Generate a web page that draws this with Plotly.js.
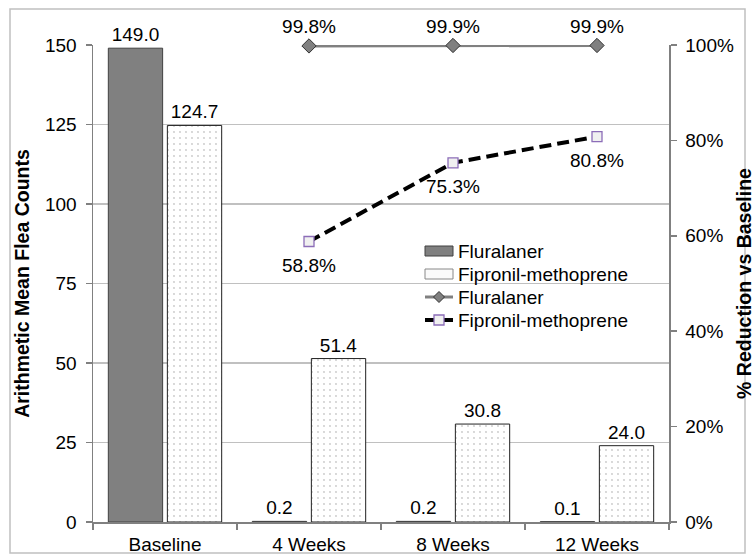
<!DOCTYPE html>
<html>
<head>
<meta charset="utf-8">
<script src="https://cdn.plot.ly/plotly-3.0.1.min.js"></script>
<style>html,body{margin:0;padding:0;background:#fff;}#chart{width:755px;height:558px;}</style>
</head>
<body>
<div id="chart"></div>
<script>
const categories = ["Baseline", "4 Weeks", "8 Weeks", "12 Weeks"];
const fluralanerCounts = [149.0, 0.2, 0.2, 0.1];
const fipronilCounts = [124.7, 51.4, 30.8, 24.0];
const lineCategories = ["4 Weeks", "8 Weeks", "12 Weeks"];
const fluralanerReduction = [0.998, 0.999, 0.999];
const fipronilReduction = [0.588, 0.753, 0.808];
const leftTicks = [0, 25, 50, 75, 100, 125, 150];
const rightTicks = [0, 0.2, 0.4, 0.6, 0.8, 1.0];
const seriesNames = ["Fluralaner", "Fipronil-methoprene"];

const FONT = "Liberation Sans, Arial, sans-serif";
const FS = 19;

// plot area in pixels (for placing legend/border decorations)
const L = 93, R = 669, T = 45, B = 522;
const px = x => (x - L) / (R - L);
const py = y => (B - y) / (B - T);

const traces = [
  {
    type: "bar", name: seriesNames[0], x: categories, y: fluralanerCounts,
    marker: {color: "#808080", line: {color: "#404040", width: 1}},
    texttemplate: "%{y:.1f}", textposition: "outside", cliponaxis: false,
    textfont: {size: FS, color: "#000"}
  },
  {
    type: "bar", name: seriesNames[1], x: categories, y: fipronilCounts,
    marker: {color: "#ffffff", line: {color: "#222", width: 1},
      pattern: {shape: ".", fgcolor: "#c8c8c8", bgcolor: "#ffffff", size: 6, solidity: 0.07}},
    texttemplate: "%{y:.1f}", textposition: "outside", cliponaxis: false,
    textfont: {size: FS, color: "#000"}
  },
  {
    type: "scatter", mode: "lines+markers+text", name: seriesNames[0],
    x: lineCategories, y: fluralanerReduction, yaxis: "y2",
    line: {color: "#808080", width: 3},
    marker: {symbol: "diamond", size: 11, color: "#808080", line: {color: "#333", width: 1}},
    texttemplate: "%{y:.1%}", textposition: "top center", cliponaxis: false,
    textfont: {size: FS, color: "#000"}
  },
  {
    type: "scatter", mode: "lines+markers", name: seriesNames[1],
    x: lineCategories, y: fipronilReduction, yaxis: "y2",
    line: {color: "#000", width: 4, dash: "12px,6px"},
    marker: {symbol: "square", size: 10, color: "#f0f0f0", line: {color: "#8c6db8", width: 1.3}},
    cliponaxis: false
  }
];

// data labels for the fipronil reduction line, placed below the markers
const annotations = lineCategories.map((c, i) => ({
  x: c, y: fipronilReduction[i], xref: "x", yref: "y2",
  text: (fipronilReduction[i] * 100).toFixed(1) + "%",
  showarrow: false, yshift: -24, font: {size: FS, color: "#000"}
}));

// custom legend (labels)
const legendRows = [251, 274, 297, 320];
const legendLabels = [seriesNames[0], seriesNames[1], seriesNames[0], seriesNames[1]];
legendLabels.forEach((t, i) => annotations.push({
  x: px(456), y: py(legendRows[i]), xref: "paper", yref: "paper",
  xanchor: "left", yanchor: "middle", text: t, showarrow: false,
  font: {size: FS, color: "#000"}
}));

const shapes = [
  { // figure border
    type: "rect", xref: "paper", yref: "paper",
    x0: px(10), x1: px(745), y0: py(553), y1: py(9),
    line: {color: "#c0c0c0", width: 1.5}, fillcolor: "rgba(0,0,0,0)", layer: "below"
  },
  { // legend swatch: fluralaner bar
    type: "rect", xref: "paper", yref: "paper",
    x0: px(425), x1: px(453), y0: py(legendRows[0] + 5), y1: py(legendRows[0] - 5),
    line: {color: "#404040", width: 1}, fillcolor: "#808080"
  },
  { // legend swatch: fipronil bar
    type: "rect", xref: "paper", yref: "paper",
    x0: px(425), x1: px(453), y0: py(legendRows[1] + 5), y1: py(legendRows[1] - 5),
    line: {color: "#888", width: 1}, fillcolor: "#fafafa"
  },
  { // legend line: fluralaner
    type: "line", xref: "paper", yref: "paper",
    x0: px(425), x1: px(453), y0: py(legendRows[2]), y1: py(legendRows[2]),
    line: {color: "#808080", width: 3}
  },
  { // legend diamond
    type: "path", xref: "paper", yref: "paper",
    path: `M${px(439)},${py(legendRows[2] - 5.5)} L${px(444.5)},${py(legendRows[2])} L${px(439)},${py(legendRows[2] + 5.5)} L${px(433.5)},${py(legendRows[2])} Z`,
    line: {color: "#333", width: 1}, fillcolor: "#808080"
  },
  { // legend line: fipronil
    type: "line", xref: "paper", yref: "paper",
    x0: px(425), x1: px(453), y0: py(legendRows[3]), y1: py(legendRows[3]),
    line: {color: "#000", width: 4}
  },
  { // legend square
    type: "rect", xref: "paper", yref: "paper",
    x0: px(434), x1: px(444), y0: py(legendRows[3] + 5), y1: py(legendRows[3] - 5),
    line: {color: "#8c6db8", width: 1.3}, fillcolor: "#f0f0f0"
  }
];

const layout = {
  width: 755, height: 558,
  margin: {l: 93, r: 86, t: 45, b: 36},
  paper_bgcolor: "#fff", plot_bgcolor: "#fff",
  font: {family: FONT, size: FS, color: "#000"},
  showlegend: false,
  barmode: "group", bargap: 0.18, bargroupgap: 0.08,
  xaxis: {
    type: "category", categoryarray: categories, showline: true, linecolor: "#808080", linewidth: 1.5,
    ticks: "outside", tickson: "boundaries", ticklen: 6, tickcolor: "#808080", tickwidth: 1.5,
    showgrid: false, tickfont: {size: FS}, ticklabelstandoff: 5
  },
  yaxis: {
    range: [0, 150], tickvals: leftTicks, showline: true, linecolor: "#808080", linewidth: 1.5,
    ticks: "outside", ticklen: 6, tickcolor: "#808080", tickwidth: 1.5,
    showgrid: true, gridcolor: "#c0c0c0", gridwidth: 1.5, zeroline: false,
    tickfont: {size: FS}, ticklabelstandoff: 5,
    title: {text: "<b>Arithmetic Mean Flea Counts</b>", font: {size: 19.5}, standoff: 10}
  },
  yaxis2: {
    overlaying: "y", side: "right", range: [0, 1], tickvals: rightTicks, tickformat: ".0%",
    showline: true, linecolor: "#808080", linewidth: 1.5,
    ticks: "outside", ticklen: 6, tickcolor: "#808080", tickwidth: 1.5,
    showgrid: false, zeroline: false, tickfont: {size: FS}, ticklabelstandoff: 5,
    title: {text: "<b>% Reduction vs Baseline</b>", font: {size: 19.5}, standoff: 21}
  },
  annotations: annotations,
  shapes: shapes
};

Plotly.newPlot("chart", traces, layout, {displayModeBar: false, staticPlot: true});
</script>
</body>
</html>
